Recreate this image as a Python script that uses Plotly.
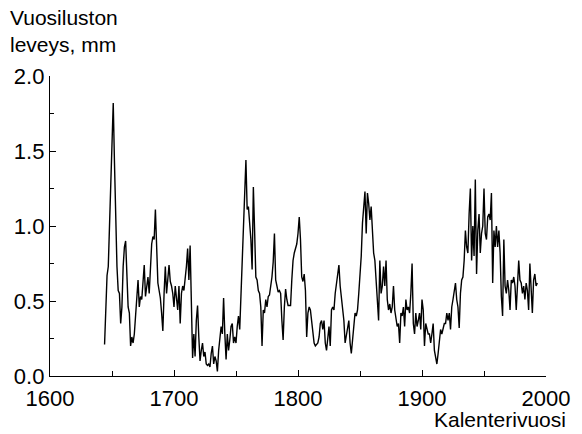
import plotly.graph_objects as go

# Calendar years (annual resolution)
years = list(range(1644, 1994))

# Annual ring width, mm
ring_width = [
    # 1644-1653
    0.21, 0.46, 0.67, 0.73, 0.97, 1.33, 1.57, 1.82, 1.42, 0.97,
    # 1654-1663
    0.73, 0.57, 0.55, 0.35, 0.46, 0.73, 0.86, 0.90, 0.73, 0.46,
    # 1664-1673
    0.42, 0.20, 0.26, 0.22, 0.28, 0.42, 0.53, 0.64, 0.46, 0.53,
    # 1674-1683
    0.51, 0.64, 0.74, 0.53, 0.60, 0.66, 0.55, 0.73, 0.88, 0.93,
    # 1684-1693
    0.91, 1.11, 0.91, 0.62, 0.57, 0.52, 0.42, 0.30, 0.55, 0.73,
    # 1694-1703
    0.55, 0.64, 0.74, 0.63, 0.60, 0.55, 0.46, 0.60, 0.53, 0.44,
    # 1704-1713
    0.60, 0.35, 0.55, 0.60, 0.57, 0.64, 0.73, 0.85, 0.64, 0.87,
    # 1714-1723
    0.57, 0.12, 0.28, 0.13, 0.37, 0.47, 0.26, 0.10, 0.17, 0.22,
    # 1724-1733
    0.13, 0.16, 0.08, 0.07, 0.08, 0.06, 0.15, 0.20, 0.08, 0.13,
    # 1734-1743
    0.10, 0.03, 0.17, 0.28, 0.33, 0.28, 0.52, 0.28, 0.11, 0.28,
    # 1744-1753
    0.17, 0.24, 0.33, 0.35, 0.22, 0.26, 0.22, 0.33, 0.40, 0.31,
    # 1754-1763
    0.55, 0.75, 1.02, 1.22, 1.44, 1.11, 1.13, 1.02, 0.91, 0.71,
    # 1764-1773
    1.26, 0.97, 0.66, 0.64, 0.57, 0.55, 0.46, 0.20, 0.44, 0.42,
    # 1774-1783
    0.51, 0.46, 0.53, 0.54, 0.60, 0.66, 0.76, 0.95, 0.64, 0.60,
    # 1784-1793
    0.56, 0.57, 0.55, 0.37, 0.24, 0.46, 0.58, 0.51, 0.47, 0.47,
    # 1794-1803
    0.47, 0.64, 0.77, 0.82, 0.85, 0.88, 0.95, 1.06, 0.91, 0.66,
    # 1804-1813
    0.63, 0.68, 0.57, 0.26, 0.42, 0.46, 0.44, 0.37, 0.26, 0.22,
    # 1814-1823
    0.20, 0.21, 0.22, 0.26, 0.35, 0.37, 0.31, 0.37, 0.22, 0.17,
    # 1824-1833
    0.28, 0.33, 0.20, 0.44, 0.46, 0.44, 0.55, 0.62, 0.68, 0.74,
    # 1834-1843
    0.60, 0.53, 0.42, 0.37, 0.22, 0.28, 0.31, 0.37, 0.22, 0.15,
    # 1844-1853
    0.24, 0.33, 0.42, 0.40, 0.44, 0.55, 0.68, 0.80, 1.02, 1.13,
    # 1854-1863
    1.23, 0.95, 1.22, 1.15, 1.04, 1.13, 1.00, 0.82, 0.77, 0.64,
    # 1864-1873
    0.44, 0.37, 0.77, 0.55, 0.60, 0.73, 0.60, 0.77, 0.51, 0.44,
    # 1874-1883
    0.48, 0.42, 0.46, 0.60, 0.44, 0.37, 0.33, 0.35, 0.22, 0.42,
    # 1884-1893
    0.40, 0.46, 0.33, 0.51, 0.44, 0.46, 0.42, 0.55, 0.75, 0.35,
    # 1894-1903
    0.28, 0.42, 0.33, 0.37, 0.42, 0.31, 0.51, 0.44, 0.20, 0.35,
    # 1904-1913
    0.31, 0.28, 0.28, 0.22, 0.28, 0.35, 0.17, 0.13, 0.08, 0.15,
    # 1914-1923
    0.26, 0.31, 0.28, 0.33, 0.35, 0.35, 0.42, 0.37, 0.42, 0.31,
    # 1924-1933
    0.46, 0.51, 0.57, 0.62, 0.51, 0.46, 0.32, 0.55, 0.64, 0.66,
    # 1934-1943
    0.77, 0.97, 0.86, 0.82, 1.08, 1.25, 0.77, 1.00, 0.80, 1.31,
    # 1944-1953
    0.68, 0.97, 1.08, 0.82, 0.95, 1.00, 1.25, 0.95, 0.91, 1.06,
    # 1954-1963
    1.08, 1.04, 1.22, 0.62, 0.97, 0.86, 1.00, 0.86, 0.97, 0.82,
    # 1964-1973
    0.53, 0.40, 0.91, 0.60, 0.55, 0.64, 0.57, 0.44, 0.64, 0.62,
    # 1974-1983
    0.66, 0.60, 0.44, 0.60, 0.77, 0.64, 0.62, 0.55, 0.60, 0.51,
    # 1984-1993
    0.62, 0.57, 0.44, 0.75, 0.55, 0.42, 0.64, 0.68, 0.60, 0.62,
]

x_ticks = [1600, 1700, 1800, 1900, 2000]
y_ticks = [0.0, 0.5, 1.0, 1.5, 2.0]
y_title = "Vuosiluston<br>leveys, mm"
x_title = "Kalenterivuosi"

FONT = "Liberation Sans, Arial, Helvetica, sans-serif"

fig = go.Figure()
fig.add_trace(go.Scatter(
    x=years, y=ring_width, mode="lines",
    line=dict(color="black", width=1.4),
    showlegend=False, hoverinfo="x+y",
))

axis_common = dict(
    showline=True, linecolor="black", linewidth=1.3,
    ticks="inside", ticklen=6, tickwidth=1.2, tickcolor="black",
    showgrid=False, zeroline=False, mirror=False,
    tickfont=dict(family=FONT, size=22, color="black"),
)

fig.update_xaxes(
    range=[1600, 2000], tickvals=x_ticks, ticktext=[str(v) for v in x_ticks],
    ticklabelstandoff=2,
    minor=dict(ticks="inside", dtick=50, ticklen=5, tickwidth=1.2, tickcolor="black", showgrid=False),
    **axis_common,
)
fig.update_yaxes(
    range=[0, 2.0], tickvals=y_ticks, ticktext=[f"{v:.1f}" for v in y_ticks],
    minor=dict(ticks="inside", dtick=0.25, ticklen=4, tickwidth=1.2, tickcolor="black", showgrid=False),
    **axis_common,
)

fig.add_annotation(
    text=y_title, xref="paper", yref="paper",
    x=-0.084, y=1.0 + 72 / 300, xanchor="left", yanchor="top",
    align="left", showarrow=False,
    font=dict(family=FONT, size=21, color="black"),
)
fig.add_annotation(
    text=x_title, xref="paper", yref="paper",
    x=1.045, y=-(30 / 300), xanchor="right", yanchor="top",
    showarrow=False,
    font=dict(family=FONT, size=21, color="black"),
)

fig.update_layout(
    width=582, height=434,
    margin=dict(l=50, r=36, t=76, b=58),
    paper_bgcolor="white", plot_bgcolor="white",
    font=dict(family=FONT, size=21, color="black"),
)

fig.write_html("out.html")
